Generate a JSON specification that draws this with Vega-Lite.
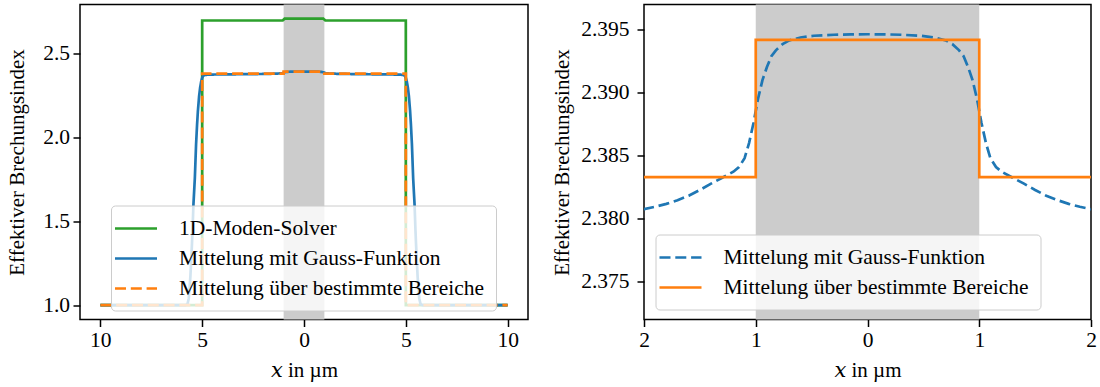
{
  "$schema": "https://vega.github.io/schema/vega-lite/v6.json",
  "background": "white",
  "padding": {"left": 5, "top": 3.5, "right": 4, "bottom": 4},
  "spacing": 116,
  "bounds": "flush",
  "config": {
    "font": "'Liberation Serif', 'Times New Roman', 'DejaVu Serif', serif",
    "style": {
      "guide-label": {"font": "'Liberation Serif', 'Times New Roman', 'DejaVu Serif', serif"},
      "guide-title": {"font": "'Liberation Serif', 'Times New Roman', 'DejaVu Serif', serif"}
    },
    "view": {"stroke": "black", "strokeWidth": 1.5},
    "axis": {
      "domain": false, "grid": false, "ticks": true,
      "tickColor": "black", "tickWidth": 1.5, "tickSize": 7,
      "labelFont": "'Liberation Serif', 'Times New Roman', 'DejaVu Serif', serif", "labelFontSize": 21.5, "labelColor": "black",
      "titleFont": "'Liberation Serif', 'Times New Roman', 'DejaVu Serif', serif", "titleFontSize": 21, "titleFontWeight": "normal", "titleColor": "black",
      "labelFlush": false, "labelOverlap": false
    },
    "legend": {
      "symbolType": "M-2,0H2", "symbolSize": 441, "symbolStrokeWidth": 2.7, "symbolOffset": 2,
      "labelFont": "'Liberation Serif', 'Times New Roman', 'DejaVu Serif', serif", "labelFontSize": 21.5, "labelColor": "black", "labelLimit": 1000,
      "labelOffset": 31, "padding": 11, "rowPadding": 7,
      "fillColor": "rgba(255,255,255,0.8)", "strokeColor": "#cccccc", "cornerRadius": 4
    }
  },
  "datasets": {
    "kern": [{"von": -1, "bis": 1}],
    "solver": [
      {"x": -10, "n": 1.0}, {"x": -5, "n": 1.0}, {"x": -5, "n": 2.700},
      {"x": -1.05, "n": 2.700}, {"x": -0.95, "n": 2.7106}, {"x": 0.95, "n": 2.7106},
      {"x": 1.05, "n": 2.700}, {"x": 5, "n": 2.700}, {"x": 5, "n": 1.0}, {"x": 10, "n": 1.0}
    ],
    "bereiche": [
      {"x": -10, "n": 1.0}, {"x": -5, "n": 1.0}, {"x": -5, "n": 2.3833},
      {"x": -1, "n": 2.3833}, {"x": -1, "n": 2.3942}, {"x": 1, "n": 2.3942},
      {"x": 1, "n": 2.3833}, {"x": 5, "n": 2.3833}, {"x": 5, "n": 1.0}, {"x": 10, "n": 1.0}
    ],
    "gauss": [
      {"x": -10, "n": 1.0}, {"x": -5.85, "n": 1.0}, {"x": -5.78, "n": 1.002}, {"x": -5.72, "n": 1.008},
      {"x": -5.66, "n": 1.04}, {"x": -5.62, "n": 1.10}, {"x": -5.58, "n": 1.17}, {"x": -5.54, "n": 1.265},
      {"x": -5.50, "n": 1.37}, {"x": -5.47, "n": 1.46}, {"x": -5.43, "n": 1.60}, {"x": -5.39, "n": 1.69},
      {"x": -5.36, "n": 1.76}, {"x": -5.30, "n": 1.96}, {"x": -5.25, "n": 2.08}, {"x": -5.21, "n": 2.16},
      {"x": -5.15, "n": 2.25}, {"x": -5.10, "n": 2.30}, {"x": -5.05, "n": 2.335}, {"x": -5.00, "n": 2.358},
      {"x": -4.95, "n": 2.369}, {"x": -4.88, "n": 2.374}, {"x": -4.75, "n": 2.3762}, {"x": -4.5, "n": 2.3772},
      {"x": -4.0, "n": 2.3780}, {"x": -3.5, "n": 2.3786}, {"x": -3.0, "n": 2.3793}, {"x": -2.5, "n": 2.3800},
      {"x": -2.0, "n": 2.38076}, {"x": -1.9, "n": 2.38095}, {"x": -1.8, "n": 2.38118}, {"x": -1.7, "n": 2.38147},
      {"x": -1.6, "n": 2.38182}, {"x": -1.5, "n": 2.38228}, {"x": -1.4, "n": 2.38278}, {"x": -1.3, "n": 2.38325},
      {"x": -1.2, "n": 2.38373}, {"x": -1.15, "n": 2.38410}, {"x": -1.1, "n": 2.38480}, {"x": -1.06, "n": 2.38600},
      {"x": -1.02, "n": 2.38760}, {"x": -0.98, "n": 2.38950}, {"x": -0.94, "n": 2.39100}, {"x": -0.90, "n": 2.39204},
      {"x": -0.86, "n": 2.39290}, {"x": -0.82, "n": 2.39336}, {"x": -0.76, "n": 2.39385}, {"x": -0.70, "n": 2.39415},
      {"x": -0.6, "n": 2.39438}, {"x": -0.48, "n": 2.39452}, {"x": -0.3, "n": 2.39460}, {"x": -0.15, "n": 2.39463},
      {"x": 0, "n": 2.39464},
      {"x": 0.15, "n": 2.39463}, {"x": 0.3, "n": 2.39460}, {"x": 0.48, "n": 2.39452}, {"x": 0.6, "n": 2.39438},
      {"x": 0.70, "n": 2.39415}, {"x": 0.76, "n": 2.39385}, {"x": 0.82, "n": 2.39336}, {"x": 0.86, "n": 2.39290},
      {"x": 0.90, "n": 2.39204}, {"x": 0.94, "n": 2.39100}, {"x": 0.98, "n": 2.38950}, {"x": 1.02, "n": 2.38760},
      {"x": 1.06, "n": 2.38600}, {"x": 1.1, "n": 2.38480}, {"x": 1.15, "n": 2.38410}, {"x": 1.2, "n": 2.38373},
      {"x": 1.3, "n": 2.38325}, {"x": 1.4, "n": 2.38278}, {"x": 1.5, "n": 2.38228}, {"x": 1.6, "n": 2.38182},
      {"x": 1.7, "n": 2.38147}, {"x": 1.8, "n": 2.38118}, {"x": 1.9, "n": 2.38095}, {"x": 2.0, "n": 2.38076},
      {"x": 2.5, "n": 2.3800}, {"x": 3.0, "n": 2.3793}, {"x": 3.5, "n": 2.3786}, {"x": 4.0, "n": 2.3780},
      {"x": 4.5, "n": 2.3772}, {"x": 4.75, "n": 2.3762}, {"x": 4.88, "n": 2.374}, {"x": 4.95, "n": 2.369},
      {"x": 5.00, "n": 2.358}, {"x": 5.05, "n": 2.335}, {"x": 5.10, "n": 2.30}, {"x": 5.15, "n": 2.25},
      {"x": 5.21, "n": 2.16}, {"x": 5.25, "n": 2.08}, {"x": 5.30, "n": 1.96}, {"x": 5.36, "n": 1.76},
      {"x": 5.39, "n": 1.69}, {"x": 5.43, "n": 1.60}, {"x": 5.47, "n": 1.46}, {"x": 5.50, "n": 1.37},
      {"x": 5.54, "n": 1.265}, {"x": 5.58, "n": 1.17}, {"x": 5.62, "n": 1.10}, {"x": 5.66, "n": 1.04},
      {"x": 5.72, "n": 1.008}, {"x": 5.78, "n": 1.002}, {"x": 5.85, "n": 1.0}, {"x": 10, "n": 1.0}
    ]
  },
  "resolve": {
    "scale": {"x": "independent", "y": "independent", "color": "independent", "strokeDash": "independent"},
    "legend": {"color": "independent", "strokeDash": "independent"}
  },
  "hconcat": [
    {
      "width": 448,
      "height": 315,
      "encoding": {
        "x": {
          "type": "quantitative",
          "scale": {"domain": [-11, 11], "nice": false, "zero": false},
          "axis": {
            "values": [-10, -5, 0, 5, 10], "labelExpr": "format(abs(datum.value), 'd')",
            "labelBaseline": "alphabetic", "labelPadding": 20.4,
            "title": "𝑥 in µm", "titleBaseline": "alphabetic", "titleY": 57.4
          }
        },
        "y": {
          "type": "quantitative",
          "scale": {"domain": [0.9145, 2.7955], "nice": false, "zero": false},
          "axis": {
            "values": [1.0, 1.5, 2.0, 2.5], "format": ".1f", "labelPadding": 3.5,
            "title": "Effektiver Brechungsindex", "titleAngle": 270, "titleBaseline": "alphabetic",
            "titleAlign": "center", "titleX": -56.5, "titleY": 157.5
          }
        }
      },
      "layer": [
        {
          "data": {"name": "kern"},
          "mark": {"type": "rect", "color": "#cccccc"},
          "encoding": {"x": {"field": "von", "type": "quantitative"}, "x2": {"field": "bis"}}
        },
        {
          "data": {"name": "solver"},
          "mark": {"type": "line", "strokeWidth": 2.7},
          "encoding": {
            "x": {"field": "x"}, "y": {"field": "n"}, "order": {"value": null},
            "color": {"datum": "1D-Moden-Solver", "type": "nominal",
              "scale": {"domain": ["1D-Moden-Solver", "Mittelung mit Gauss-Funktion", "Mittelung über bestimmte Bereiche"], "range": ["#2ca02c", "#1f77b4", "#ff7f0e"]},
              "legend": {"title": null, "orient": "none", "legendX": 31, "legendY": 201}},
            "strokeDash": {"datum": "1D-Moden-Solver", "type": "nominal",
              "scale": {"domain": ["1D-Moden-Solver", "Mittelung mit Gauss-Funktion", "Mittelung über bestimmte Bereiche"], "range": [[1, 0], [1, 0], [11, 4.8]]},
              "legend": {"title": null, "orient": "none", "legendX": 31, "legendY": 201}}
          }
        },
        {
          "data": {"name": "gauss"},
          "mark": {"type": "line", "strokeWidth": 2.7},
          "encoding": {
            "x": {"field": "x"}, "y": {"field": "n"}, "order": {"value": null},
            "color": {"datum": "Mittelung mit Gauss-Funktion", "type": "nominal"},
            "strokeDash": {"datum": "Mittelung mit Gauss-Funktion", "type": "nominal"}
          }
        },
        {
          "data": {"name": "bereiche"},
          "mark": {"type": "line", "strokeWidth": 2.7},
          "encoding": {
            "x": {"field": "x"}, "y": {"field": "n"}, "order": {"value": null},
            "color": {"datum": "Mittelung über bestimmte Bereiche", "type": "nominal"},
            "strokeDash": {"datum": "Mittelung über bestimmte Bereiche", "type": "nominal"}
          }
        }
      ]
    },
    {
      "width": 447,
      "height": 315,
      "encoding": {
        "x": {
          "type": "quantitative",
          "scale": {"domain": [-2, 2], "nice": false, "zero": false},
          "axis": {
            "values": [-2, -1, 0, 1, 2], "labelExpr": "format(abs(datum.value), 'd')",
            "labelBaseline": "alphabetic", "labelPadding": 20.4,
            "title": "𝑥 in µm", "titleBaseline": "alphabetic", "titleY": 57.4
          }
        },
        "y": {
          "type": "quantitative",
          "scale": {"domain": [2.372, 2.397], "nice": false, "zero": false},
          "axis": {
            "values": [2.375, 2.38, 2.385, 2.39, 2.395], "format": ".3f", "labelPadding": 8,
            "title": "Effektiver Brechungsindex", "titleAngle": 270, "titleBaseline": "alphabetic",
            "titleAlign": "center", "titleX": -75.5, "titleY": 157.5
          }
        }
      },
      "layer": [
        {
          "data": {"name": "kern"},
          "mark": {"type": "rect", "color": "#cccccc"},
          "encoding": {"x": {"field": "von", "type": "quantitative"}, "x2": {"field": "bis"}}
        },
        {
          "data": {"name": "gauss"},
          "mark": {"type": "line", "strokeWidth": 2.7, "clip": true},
          "encoding": {
            "x": {"field": "x"}, "y": {"field": "n"}, "order": {"value": null},
            "color": {"datum": "Mittelung mit Gauss-Funktion", "type": "nominal",
              "scale": {"domain": ["Mittelung mit Gauss-Funktion", "Mittelung über bestimmte Bereiche"], "range": ["#1f77b4", "#ff7f0e"]},
              "legend": {"title": null, "orient": "none", "legendX": 11.5, "legendY": 230}},
            "strokeDash": {"datum": "Mittelung mit Gauss-Funktion", "type": "nominal",
              "scale": {"domain": ["Mittelung mit Gauss-Funktion", "Mittelung über bestimmte Bereiche"], "range": [[11, 4.8], [1, 0]]},
              "legend": {"title": null, "orient": "none", "legendX": 11.5, "legendY": 230}}
          }
        },
        {
          "data": {"name": "bereiche"},
          "mark": {"type": "line", "strokeWidth": 2.7, "clip": true},
          "encoding": {
            "x": {"field": "x"}, "y": {"field": "n"}, "order": {"value": null},
            "color": {"datum": "Mittelung über bestimmte Bereiche", "type": "nominal"},
            "strokeDash": {"datum": "Mittelung über bestimmte Bereiche", "type": "nominal"}
          }
        }
      ]
    }
  ]
}
